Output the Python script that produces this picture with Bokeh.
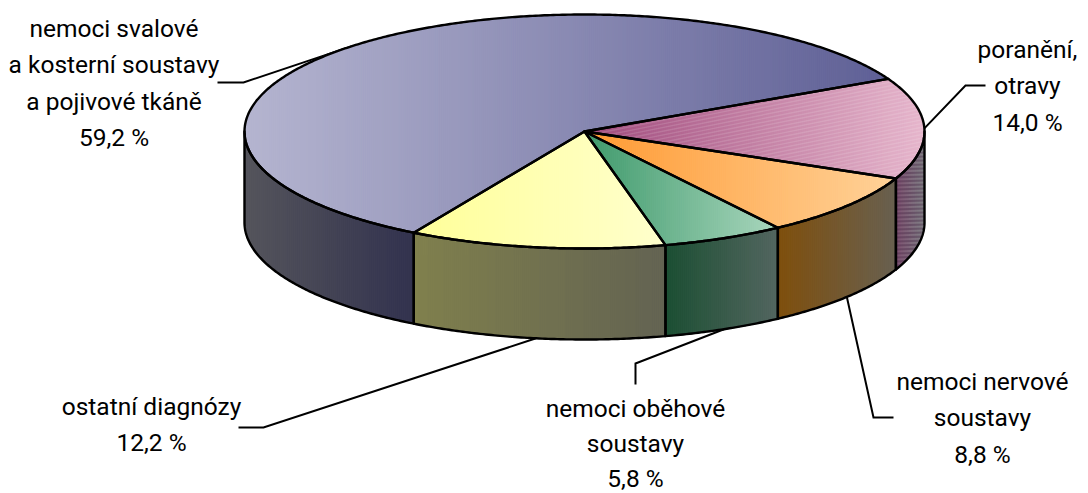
import math
from bokeh.plotting import figure
from bokeh.embed import file_html
from bokeh.resources import INLINE
from bokeh.core.properties import value

# --- data ---
categories = ["nemoci svalové a kosterní soustavy a pojivové tkáně", "poranění, otravy",
              "nemoci nervové soustavy", "nemoci oběhové soustavy", "ostatní diagnózy"]
shares = [59.2, 14.0, 8.8, 5.8, 12.2]
label_lines = [["nemoci svalové", "a kosterní soustavy", "a pojivové tkáně", "59,2 %"],
               ["poranění,", "otravy", "14,0 %"],
               ["nemoci nervové", "soustavy", "8,8 %"],
               ["nemoci oběhové", "soustavy", "5,8 %"],
               ["ostatní diagnózy", "12,2 %"]]

# --- styling / layout ---
top_colors = [("#b5b5d0", "#5f6096"), ("#a04a7c", "#e6b6cc"), ("#ff9a33", "#ffd299"),
              ("#3f9a6c", "#a9d6bd"), ("#ffff99", "#ffffcc")]
side_colors = [("#55555c", "#33334f"), ("#7d5070", "#807f85"), ("#7f4f0c", "#686050"),
               ("#1c4f33", "#536660"), ("#80804d", "#636352")]
CX, CY, RX, RY, DEPTH = 584, 131, 340, 117, 91
START = 133.3 + 59.2 * 1.8  # clockwise-start of the first slice, degrees
FONT = "Roboto"
FS = "24.5px"
label_center = [113.5, 1027, 982, 635, 151]
label_base = [28, 49, 381, 408, 406]
label_pitch = [36.4, 36.4, 36.4, 34.8, 36.4]
elbow = [[(243, 82), (217, 82)], [(965, 85), (985, 85)], [(873, 417), (893, 417)],
         [(635, 363), (635, 384)], [(263, 427), (238, 427)]]
leader_on_side = [False, False, True, True, True]

p = figure(width=1088, height=493, x_range=(0, 1088), y_range=(493, 0),
           toolbar_location=None, output_backend="svg", min_border=0, outline_line_color=None)
p.axis.visible = False
p.grid.visible = False


def pt(a, d=0.0):
    r = math.radians(a)
    return (CX + RX * math.cos(r), CY - RY * math.sin(r) + d)


def arc(a0, a1, d=0.0):
    n = max(2, int(abs(a1 - a0)) * 2)
    return [pt(a0 + (a1 - a0) * i / n, d) for i in range(n + 1)]


def clip(poly, a, b, c):
    """keep the part with a*x + b*y <= c"""
    out = []
    for i, q in enumerate(poly):
        r = poly[(i + 1) % len(poly)]
        fq = a * q[0] + b * q[1] - c
        fr = a * r[0] + b * r[1] - c
        if fq <= 0:
            out.append(q)
        if (fq < 0 < fr) or (fr < 0 < fq):
            t = fq / (fq - fr)
            out.append((q[0] + (r[0] - q[0]) * t, q[1] + (r[1] - q[1]) * t))
    return out


def mix(c0, c1, t):
    v0 = [int(c0[i:i + 2], 16) for i in (1, 3, 5)]
    v1 = [int(c1[i:i + 2], 16) for i in (1, 3, 5)]
    return "#%02x%02x%02x" % tuple(round(u + (w - u) * t) for u, w in zip(v0, v1))


def gradient(poly, stops):
    xs_all, ys_all, cols = [], [], []
    lo = min(q[0] for q in poly)
    hi = max(q[0] for q in poly)
    x = lo
    while x < hi:
        x1 = min(hi, x + 2)
        s = clip(clip(poly, 1, 0, x1), -1, 0, -x)
        if len(s) > 2:
            xs_all.append([q[0] for q in s])
            ys_all.append([q[1] for q in s])
            cols.append(mix(stops[0], stops[1], ((x + x1) / 2 - lo) / (hi - lo)))
        x = x1
    p.patches(xs_all, ys_all, fill_color=cols, line_color=cols, line_width=1.2)


def stripes(poly, slope, gap, thick, color, alpha):
    norm = math.hypot(slope, 1)
    a, b = -slope / norm, 1 / norm
    vals = [a * q[0] + b * q[1] for q in poly]
    xs_all, ys_all = [], []
    c = min(vals)
    while c < max(vals):
        s = clip(clip(poly, a, b, c + thick), -a, -b, -c)
        if len(s) > 2:
            xs_all.append([q[0] for q in s])
            ys_all.append([q[1] for q in s])
        c += gap
    p.patches(xs_all, ys_all, fill_color=color, fill_alpha=alpha, line_color=None)


# slice boundary angles, walking clockwise from the first slice
angles = [START]
for s in shares:
    angles.append(angles[-1] - s * 3.6)
mids = [(angles[i] + angles[i + 1]) / 2 for i in range(len(shares))]

# leader lines
lx, ly = [], []
for i in range(len(shares)):
    a = pt(mids[i], DEPTH if leader_on_side[i] else 0)
    pts = [a] + elbow[i]
    lx.append([q[0] for q in pts])
    ly.append([q[1] for q in pts])
p.multi_line(lx, ly, line_color="black", line_width=2, line_join="miter")

# side walls: the part of each slice's rim in the lower half of the ellipse faces the viewer
outlines = []
for i in range(len(shares)):
    a0, a1 = angles[i], angles[i + 1]
    if i == 0:
        hi, lo = angles[5], -180      # the first slice wraps round the left end
    else:
        hi, lo = min(a0, 0), max(a1, -180)
    if hi > lo:
        wall = arc(hi, lo) + arc(lo, hi, DEPTH)
        gradient(wall, side_colors[i])
        if i == 1:
            stripes(wall, -0.03, 4.0, 2.0, "#402040", 0.35)
        outlines.append(wall)

# top face
for i in range(len(shares)):
    wedge = [(CX, CY)] + arc(angles[i], angles[i + 1])
    gradient(wedge, top_colors[i])
    if i == 1:
        stripes(wedge, -0.2, 3.6, 1.4, "#ffffff", 0.13)
    outlines.append(wedge)

p.patches([[q[0] for q in o] for o in outlines], [[q[1] for q in o] for o in outlines],
          fill_color=None, line_color="black", line_width=2.4, line_join="round")

# labels
tx, ty, tt = [], [], []
for i, lines in enumerate(label_lines):
    for j, t in enumerate(lines):
        tx.append(label_center[i])
        ty.append(label_base[i] + j * label_pitch[i])
        tt.append(t)
p.text(tx, ty, tt, text_font=value(FONT), text_font_size=value(FS), text_color="black",
       text_align="center", text_baseline="middle")

open("out.html", "w").write(file_html(p, INLINE))
